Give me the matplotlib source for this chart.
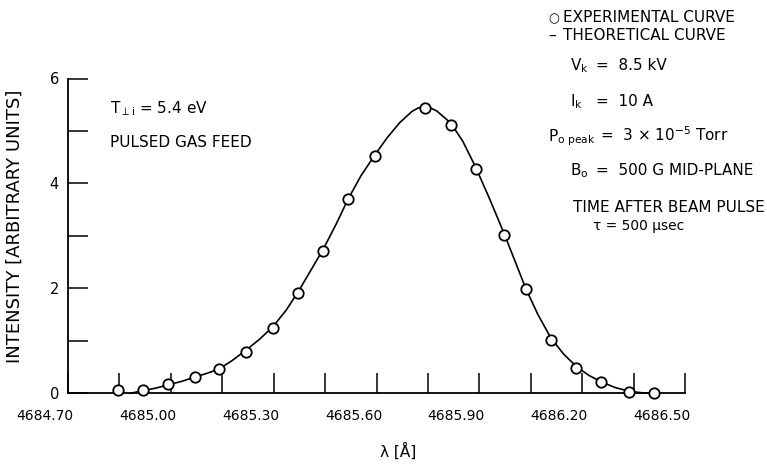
import matplotlib
matplotlib.use("Agg")
import matplotlib.pyplot as plt
import matplotlib.transforms as mtransforms
from matplotlib.ticker import FixedLocator, MultipleLocator

# experimental points
lam_exp = [4684.845, 4684.920, 4684.993, 4685.070, 4685.141, 4685.218, 4685.297,
           4685.372, 4685.445, 4685.516, 4685.596, 4685.741, 4685.817, 4685.891,
           4685.972, 4686.036, 4686.110, 4686.181, 4686.255, 4686.336, 4686.411]
int_exp = [0.07, 0.06, 0.17, 0.32, 0.46, 0.78, 1.24, 1.91, 2.72, 3.71, 4.53,
           5.44, 5.11, 4.28, 3.02, 1.98, 1.02, 0.49, 0.22, 0.03, 0.01]

# theoretical curve
lam_th = [4684.881, 4684.919, 4684.957, 4684.992, 4685.033, 4685.070, 4685.105,
          4685.140, 4685.178, 4685.219, 4685.257, 4685.298, 4685.336, 4685.371,
          4685.409, 4685.444, 4685.482, 4685.517, 4685.555, 4685.596, 4685.631,
          4685.668, 4685.703, 4685.722, 4685.739, 4685.757, 4685.776, 4685.817,
          4685.852, 4685.890, 4685.931, 4685.972, 4686.004, 4686.036, 4686.071,
          4686.109, 4686.147, 4686.185, 4686.220, 4686.255, 4686.296, 4686.337,
          4686.374, 4686.404]
int_th = [0.00, 0.05, 0.10, 0.16, 0.23, 0.31, 0.38, 0.46, 0.62, 0.82, 1.02,
          1.27, 1.58, 1.93, 2.35, 2.74, 3.22, 3.70, 4.15, 4.55, 4.87, 5.16,
          5.37, 5.44, 5.46, 5.44, 5.38, 5.15, 4.80, 4.30, 3.69, 3.05, 2.52,
          1.99, 1.50, 1.05, 0.74, 0.50, 0.34, 0.22, 0.11, 0.04, 0.01, 0.00]

xtick_labels = ['4684.70', '4685.00', '4685.30', '4685.60', '4685.90', '4686.20', '4686.50']
ytick_labels = ['0', '2', '4', '6']

plt.rcParams['font.family'] = ['DejaVu Sans']
plt.rcParams['mathtext.fontset'] = 'dejavusans'

W, H = 767, 466
fig = plt.figure(figsize=(W / 100, H / 100), dpi=100)
ax = fig.add_axes([68 / W, 1 - 393.3 / H, 617 / W, (393.3 - 78.5) / H])


def ftext(x, y, s, **kw):
    # place text by pixel position of the reference picture
    kw.setdefault('fontsize', 11)
    kw.setdefault('va', 'baseline')
    fig.text(x / W, 1 - y / H, s, **kw)


ax.plot(lam_th, int_th, color='black', lw=1.2, clip_on=False, zorder=2)
ax.plot(lam_exp, int_exp, 'o', ms=7.5, mfc='white', mec='black', mew=1.3,
        clip_on=False, zorder=3)

ax.set_xlim(4684.70, 4686.50)
ax.set_ylim(0, 6)
xmajor = [float(s) for s in xtick_labels]
ax.set_xticks(xmajor, xtick_labels)
ax.xaxis.set_minor_locator(FixedLocator([(a + b) / 2 for a, b in zip(xmajor[:-1], xmajor[1:])]))
ax.set_yticks([float(s) for s in ytick_labels], ytick_labels)
ax.yaxis.set_minor_locator(MultipleLocator(1))
ax.tick_params(which='both', direction='in', length=14.5, width=1.1, color='black')
ax.tick_params(axis='x', labelsize=10, pad=11)
ax.tick_params(axis='y', labelsize=10.5, pad=6.5)

offset = mtransforms.ScaledTranslation(-23 / 100, 0, fig.dpi_scale_trans)
for lab in ax.xaxis.get_majorticklabels():
    lab.set_transform(lab.get_transform() + offset)

for side in ['top', 'right']:
    ax.spines[side].set_visible(False)
for side in ['left', 'bottom']:
    ax.spines[side].set_linewidth(1.3)

ax.set_xlabel('λ [Å]', fontsize=11)
ax.xaxis.set_label_coords((398 - 68) / 617, (393.3 - 443) / 314.8)
ax.set_ylabel('INTENSITY [ARBITRARY UNITS]', fontsize=13)
ax.yaxis.set_label_coords((24 - 68) / 617, (393.3 - 226) / 314.8)

# left annotations
ftext(110, 113, r'T$_{\perp\mathregular{i}}$ = 5.4 eV')
ftext(110, 147, 'PULSED GAS FEED')

# right annotation block
ftext(548, 22, '○', fontsize=9)
ftext(563, 22, 'EXPERIMENTAL CURVE')
ftext(548, 40, '–')
ftext(563, 40, 'THEORETICAL CURVE')
ftext(570, 70, r'V$_\mathregular{k}$')
ftext(596, 70, '=  8.5 kV')
ftext(570, 106, r'I$_\mathregular{k}$')
ftext(596, 106, '=  10 A')
ftext(548, 141, r'P$_\mathregular{o\ peak}$')
ftext(600, 141, r'=  3 × 10$^\mathregular{-5}$ Torr')
ftext(570, 175, r'B$_\mathregular{o}$')
ftext(596, 175, '=  500 G MID-PLANE')
ftext(765, 212, 'TIME AFTER BEAM PULSE', ha='right')
ftext(593, 230, 'τ = 500 μsec', fontsize=10)

fig.savefig('out.png', dpi=100)
